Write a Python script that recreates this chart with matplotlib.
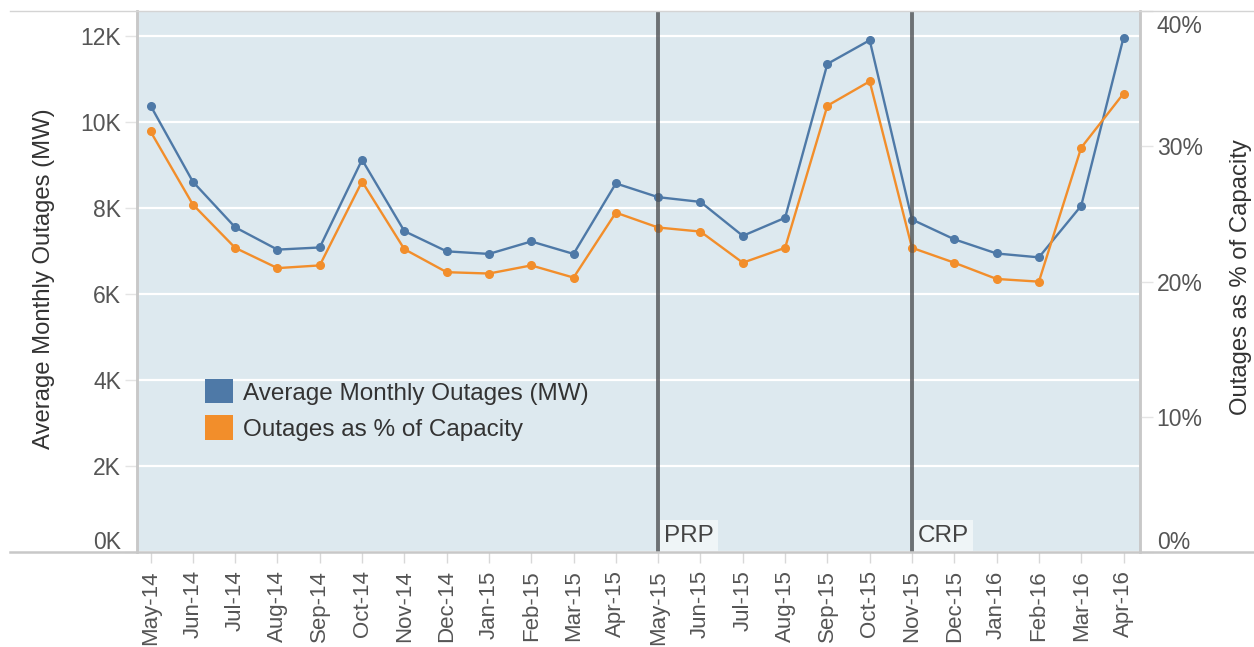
import matplotlib
matplotlib.use('agg')
import matplotlib.pyplot as plt
from matplotlib.patches import Patch
from matplotlib.lines import Line2D
from matplotlib.transforms import ScaledTranslation
from matplotlib.ticker import FuncFormatter

import numpy as np

plt.rcParams['font.family'] = ['Liberation Sans', 'DejaVu Sans']

### data
months = ['May-14', 'Jun-14', 'Jul-14', 'Aug-14', 'Sep-14', 'Oct-14', 'Nov-14', 'Dec-14',
          'Jan-15', 'Feb-15', 'Mar-15', 'Apr-15', 'May-15', 'Jun-15', 'Jul-15', 'Aug-15',
          'Sep-15', 'Oct-15', 'Nov-15', 'Dec-15', 'Jan-16', 'Feb-16', 'Mar-16', 'Apr-16']
outages_mw = [10390, 8620, 7560, 7040, 7090, 9130, 7470, 7000,
              6940, 7230, 6940, 8580, 8260, 8150, 7360, 7780,
              11360, 11910, 7740, 7280, 6950, 6860, 8060, 11970]
outages_pct = [31.1, 25.7, 22.5, 21.0, 21.2, 27.4, 22.4, 20.7,
               20.6, 21.2, 20.3, 25.1, 24.0, 23.7, 21.4, 22.5,
               33.0, 34.8, 22.5, 21.4, 20.2, 20.0, 29.9, 33.9]
events = ['PRP', 'CRP']
event_months = ['May-15', 'Nov-15']
left_ticks = [0, 2000, 4000, 6000, 8000, 10000, 12000]
right_ticks = [0, 10, 20, 30, 40]

blue = '#4e79a7'
orange = '#f28e2b'
tick_col = '#555555'
text_col = '#333333'
spine_col = '#c8c8c8'

fig = plt.figure(figsize=(12.54, 6.47), dpi=100)
ax = fig.add_axes([137/1254, 94.7/647, 1003/1254, 541.3/647])
ax.set_facecolor('#dde9ef')
x = np.arange(len(months))

ax.plot(x, outages_mw, color=blue, lw=1.7, marker='o', ms=5.5, zorder=3)
ax.set_xlim(-0.32, 23.39)
ax.set_ylim(0, 12590)
ax.set_yticks(left_ticks)
ax.yaxis.set_major_formatter(FuncFormatter(lambda v, p: '%dK' % round(v/1000)))
ax.set_xticks(x)
ax.set_xticklabels(months, rotation=90)
ax.grid(axis='y', color='white', lw=1.6)
ax.set_axisbelow(True)
ax.tick_params(axis='x', length=8, width=1, color='#d8d8d8', pad=5, labelsize=16, labelcolor=tick_col)
ax.tick_params(axis='y', length=9, width=1, color='#e4e4e4', pad=2.5, labelsize=16.5, labelcolor=tick_col)
ax.set_ylabel('Average Monthly Outages (MW)', fontsize=17.2, color=text_col)
ax.yaxis.set_label_coords(-0.0818, 0.506)

ax2 = ax.twinx()
ax2.plot(x, outages_pct, color=orange, lw=1.7, marker='o', ms=5.5, zorder=3)
ax2.set_ylim(0, 40)
ax2.set_yticks(right_ticks)
ax2.yaxis.set_major_formatter(FuncFormatter(lambda v, p: '%d%%' % v))
ax2.tick_params(axis='y', length=9, width=1, color='#e4e4e4', pad=3, labelsize=16.5, labelcolor=tick_col)
ax2.set_ylabel('Outages as % of Capacity', fontsize=17.2, color=text_col)
ax2.yaxis.set_label_coords(1.0897, 0.508)

for a in (ax, ax2):
    a.spines['top'].set_visible(False)
    a.spines['bottom'].set_visible(False)
    a.spines['left'].set_color(spine_col)
    a.spines['left'].set_linewidth(1.8)
    a.spines['right'].set_color(spine_col)
    a.spines['right'].set_linewidth(1.8)

# edge labels pulled inside like the original
dpi_tr = fig.dpi_scale_trans
lab = ax.get_yticklabels()[0]
lab.set_transform(lab.get_transform() + ScaledTranslation(0, 0.12, dpi_tr))
lab = ax2.get_yticklabels()[0]
lab.set_transform(lab.get_transform() + ScaledTranslation(0, 0.12, dpi_tr))
lab = ax2.get_yticklabels()[-1]
lab.set_transform(lab.get_transform() + ScaledTranslation(0, -0.13, dpi_tr))

# event markers
for name, m in zip(events, event_months):
    i = months.index(m)
    ax2.axvline(i, color='#505356', alpha=0.8, lw=2.8, zorder=4)
    ax2.annotate(name, xy=(i, 0.031), xycoords=('data', 'axes fraction'),
                 xytext=(4.5, 0), textcoords='offset points', ha='left', va='center',
                 fontsize=17.5, color='#444444', zorder=5,
                 bbox=dict(facecolor='white', alpha=0.55, edgecolor='none', pad=3))

handles = [Patch(facecolor=blue, edgecolor='none'), Patch(facecolor=orange, edgecolor='none')]
leg = ax2.legend(handles, ['Average Monthly Outages (MW)', 'Outages as % of Capacity'],
                 loc='upper left', bbox_to_anchor=(0.0678, 0.3198), frameon=False,
                 fontsize=17.5, handlelength=1.16, handleheight=1.16, handletextpad=0.4,
                 labelspacing=0.45, borderpad=0, borderaxespad=0)
for t in leg.get_texts():
    t.set_color(text_col)

# long rules at top and bottom of the view
fig.add_artist(Line2D([10/1254, 1], [94.7/647, 94.7/647], color=spine_col, lw=1.8))
fig.add_artist(Line2D([10/1254, 1], [636/647, 636/647], color='#d4d4d4', lw=1))

plt.savefig('out.png', format='png', transparent=False)
